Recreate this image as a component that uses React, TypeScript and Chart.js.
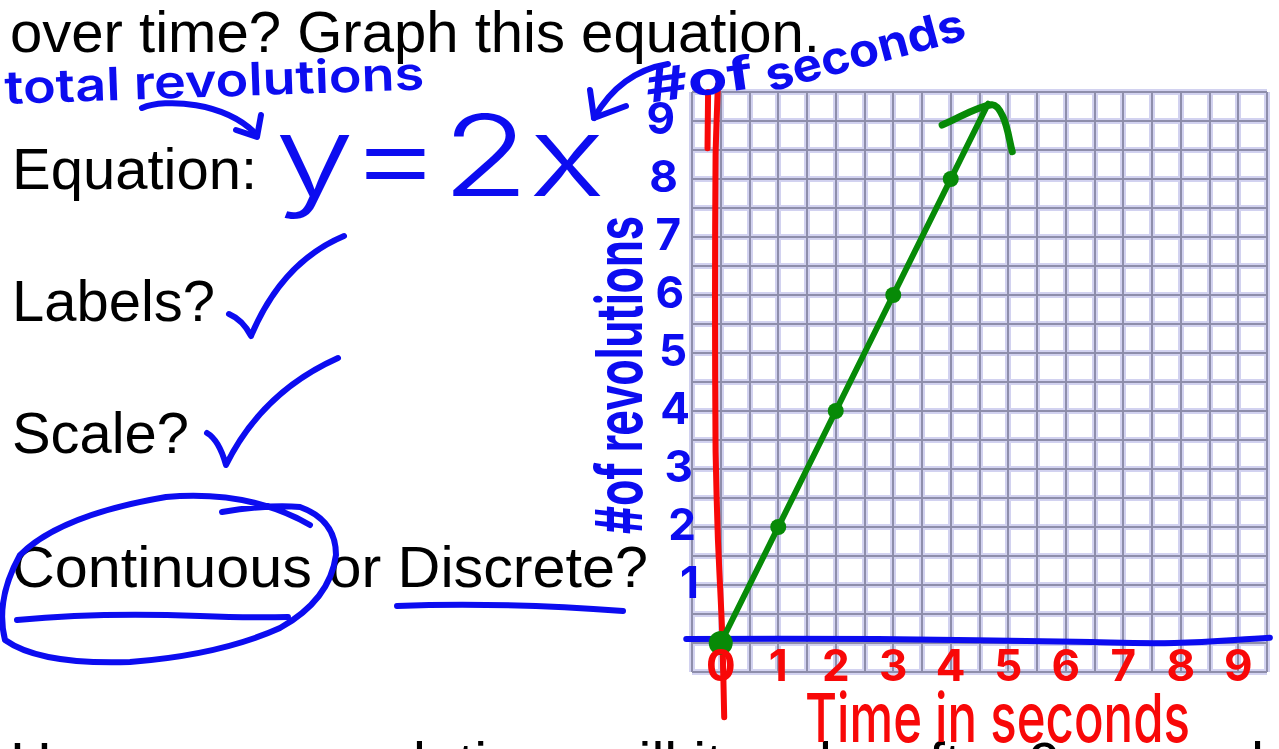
import React, { useEffect, useRef } from 'react';
import { Chart, registerables } from 'chart.js';

Chart.register(...registerables);

// ---------- data ----------
// plotted points of y = 2x (seconds -> total revolutions)
const pointSeconds = [0, 1, 2, 3, 4];
const pointRevolutions = [0, 2, 4, 6, 8];
// the drawn line continues past (4, 8) up to the arrow tip
const lineSeconds = [0, 1, 2, 3, 4, 4.65];
const lineRevolutions = [0, 2, 4, 6, 8, 9.3];
// arrow head at the end of the line
const arrowSeconds = [3.85, 4.71, 4.91, 5.07];
const arrowRevolutions = [8.93, 9.28, 9.07, 8.47];
// hand-drawn red vertical axis
const redAxisX = [-0.05, -0.09, -0.1, -0.09, -0.05, 0.0, 0.03, 0.06];
const redAxisY = [9.62, 8.4, 5.9, 3.3, 1.8, 0.74, 0.05, -1.28];
const redStrokeX = [-0.22, -0.23];
const redStrokeY = [9.5, 8.53];
// hand-drawn blue horizontal axis
const blueAxisX = [-0.6, 2.73, 6.17, 7.89, 9.55];
const blueAxisY = [0.07, 0.07, 0.02, 0, 0.09];
// tick labels
const xTickLabels = ['0', '1', '2', '3', '4', '5', '6', '7', '8', '9'];
const yTickLabels = ['1', '2', '3', '4', '5', '6', '7', '8', '9'];
const axisMin = -0.5;
const axisMax = 9.5;
const gridStep = 0.5;

const BLUE = '#0c0cf0';
const RED = '#f80808';
const GREEN = '#078a07';

const zip = (xs: number[], ys: number[]) => xs.map((x, i) => ({ x, y: ys[i] }));

const handLabels = {
  id: 'handLabels',
  afterDatasetsDraw(chart: any) {
    const { ctx, chartArea, scales } = chart;
    ctx.save();
    ctx.font = '700 44px Inter, "DejaVu Sans", sans-serif';
    ctx.textBaseline = 'middle';
    ctx.fillStyle = RED;
    ctx.textAlign = 'center';
    xTickLabels.forEach((lab) => {
      const v = Number(lab);
      ctx.fillText(lab, scales.x.getPixelForValue(v), chartArea.bottom - 4);
    });
    ctx.fillStyle = BLUE;
    ctx.textAlign = 'right';
    yTickLabels.forEach((lab) => {
      const v = Number(lab);
      ctx.fillText(lab, chartArea.left + 10 - 3 * v, scales.y.getPixelForValue(v));
    });
    ctx.restore();
  },
};

const linearAxis = (color: string, width: number, z: number, position: string) => ({
  type: 'linear' as const,
  position,
  min: axisMin,
  max: axisMax,
  ticks: { display: false, stepSize: gridStep, maxTicksLimit: 100 },
  grid: { color, lineWidth: width, drawTicks: false, z },
  border: { display: false },
});

export default function App() {
  const ref = useRef<HTMLCanvasElement | null>(null);

  useEffect(() => {
    if (!ref.current) return;
    const chart = new Chart(ref.current, {
      type: 'scatter',
      data: {
        datasets: [
          {
            label: 'points',
            data: zip(pointSeconds, pointRevolutions),
            showLine: false,
            pointRadius: (c: any) => (c.dataIndex === 0 ? 12 : 8),
            pointBackgroundColor: GREEN,
            pointBorderColor: GREEN,
            pointBorderWidth: 0,
            xAxisID: 'x',
            yAxisID: 'y',
          },
          {
            label: 'y = 2x',
            data: zip(lineSeconds, lineRevolutions),
            showLine: true,
            borderColor: GREEN,
            borderWidth: 6,
            pointRadius: 0,
            borderCapStyle: 'round',
            xAxisID: 'x',
            yAxisID: 'y',
            clip: false,
          },
          {
            label: 'arrow',
            data: zip(arrowSeconds, arrowRevolutions),
            showLine: true,
            borderColor: GREEN,
            borderWidth: 7,
            pointRadius: 0,
            tension: 0.35,
            borderCapStyle: 'round',
            borderJoinStyle: 'round',
            xAxisID: 'x',
            yAxisID: 'y',
            clip: false,
          },
          {
            label: 'x axis',
            data: zip(blueAxisX, blueAxisY),
            showLine: true,
            borderColor: BLUE,
            borderWidth: 6,
            pointRadius: 0,
            tension: 0.4,
            borderCapStyle: 'round',
            xAxisID: 'x',
            yAxisID: 'y',
            clip: false,
          },
          {
            label: 'y axis',
            data: zip(redAxisX, redAxisY),
            showLine: true,
            borderColor: RED,
            borderWidth: 6,
            pointRadius: 0,
            tension: 0.2,
            borderCapStyle: 'round',
            xAxisID: 'x',
            yAxisID: 'y',
            clip: false,
          },
          {
            label: 'y axis stroke',
            data: zip(redStrokeX, redStrokeY),
            showLine: true,
            borderColor: RED,
            borderWidth: 6,
            pointRadius: 0,
            borderCapStyle: 'round',
            xAxisID: 'x',
            yAxisID: 'y',
            clip: false,
          },
        ],
      },
      options: {
        responsive: false,
        animation: false,
        devicePixelRatio: 1,
        events: [],
        layout: { padding: { left: 692, top: 92, right: 5, bottom: 77 } },
        plugins: { legend: { display: false }, tooltip: { enabled: false } },
        scales: {
          x: linearAxis('#8e8eab', 2, -1, 'bottom'),
          y: linearAxis('#8e8eab', 2, -1, 'left'),
          x2: linearAxis('#d2d2f0', 6, -2, 'bottom'),
          y2: linearAxis('#d2d2f0', 6, -2, 'left'),
        },
      } as any,
      plugins: [handLabels],
    });
    return () => chart.destroy();
  }, []);

  const hand = {
    fill: 'none',
    stroke: BLUE,
    strokeWidth: 6,
    strokeLinecap: 'round' as const,
    strokeLinejoin: 'round' as const,
  };
  const print = "'Liberation Sans', Arial, Helvetica, sans-serif";
  const script = "Inter, 'DejaVu Sans', sans-serif";

  return (
    <div
      style={{
        position: 'fixed',
        left: 0,
        top: 0,
        width: 1279,
        height: 749,
        background: '#fff',
        overflow: 'hidden',
      }}
    >
      <canvas ref={ref} width={1279} height={749} style={{ position: 'absolute', left: 0, top: 0 }} />
      <svg
        width={1279}
        height={749}
        style={{ position: 'absolute', left: 0, top: 0, pointerEvents: 'none' }}
      >
        <g fontFamily={print} fontSize={58} fill="#000">
          <text x={10} y={52} textLength={810} lengthAdjust="spacingAndGlyphs">
            over time? Graph this equation.
          </text>
          <text x={12} y={189} textLength={245} lengthAdjust="spacingAndGlyphs">
            Equation:
          </text>
          <text x={12} y={321} textLength={203} lengthAdjust="spacingAndGlyphs">
            Labels?
          </text>
          <text x={12} y={453} textLength={177} lengthAdjust="spacingAndGlyphs">
            Scale?
          </text>
          <text x={12} y={587} textLength={636} lengthAdjust="spacingAndGlyphs">
            Continuous or Discrete?
          </text>
          <text x={10} y={783}>
            How many revolutions will it make after 9 seconds?
          </text>
        </g>

        <g fontFamily={script} fill={BLUE}>
          <text
            x={5}
            y={104}
            fontSize={46}
            fontWeight={600}
            textLength={420}
            lengthAdjust="spacingAndGlyphs"
            transform="rotate(-2 5 104)"
          >
            total revolutions
          </text>
          <text x={275} y={196} fontSize={112} fontWeight={300} textLength={330} lengthAdjust="spacingAndGlyphs">
            y=2x
          </text>
          <text
            x={648}
            y={103}
            fontSize={46}
            fontWeight={700}
            textLength={108}
            lengthAdjust="spacingAndGlyphs"
            transform="rotate(-8 648 103)"
          >
            #of
          </text>
          <text
            x={770}
            y={92}
            fontSize={46}
            fontWeight={700}
            textLength={205}
            lengthAdjust="spacingAndGlyphs"
            transform="rotate(-15 770 92)"
          >
            seconds
          </text>
          <text
            x={0}
            y={0}
            fontSize={64}
            fontWeight={700}
            textLength={318}
            lengthAdjust="spacingAndGlyphs"
            transform="translate(642 534) rotate(-90)"
          >
            #of revolutions
          </text>
        </g>

        <text
          x={805}
          y={742}
          fontFamily={script}
          fontSize={68}
          fontWeight={500}
          fill={RED}
          textLength={385}
          lengthAdjust="spacingAndGlyphs"
        >
          Time in seconds
        </text>

        <g {...hand}>
          {/* arrow: total revolutions -> y */}
          <path d="M142,108 C165,98 225,102 256,134" />
          <path d="M236,130 L257,137 L261,115" />
          {/* arrow: # of seconds -> x */}
          <path d="M668,64 Q620,72 594,118" />
          <path d="M590,90 L594,118 L626,106" />
          {/* check marks */}
          <path d="M229,314 Q243,320 251,336 Q282,262 344,236" />
          <path d="M207,433 Q219,440 226,465 Q262,392 338,358" />
          {/* circle around Continuous */}
          <path d="M222,512 Q270,504 300,507 Q336,520 336,555 Q330,600 280,628 Q220,655 130,662 Q40,665 5,640 Q-5,600 20,555 Q60,515 166,497 Q250,490 310,525" />
          {/* underlines */}
          <path d="M17,620 Q100,612 200,616 Q250,618 288,617" />
          <path d="M397,606 Q500,602 623,611" />
        </g>
      </svg>
    </div>
  );
}
